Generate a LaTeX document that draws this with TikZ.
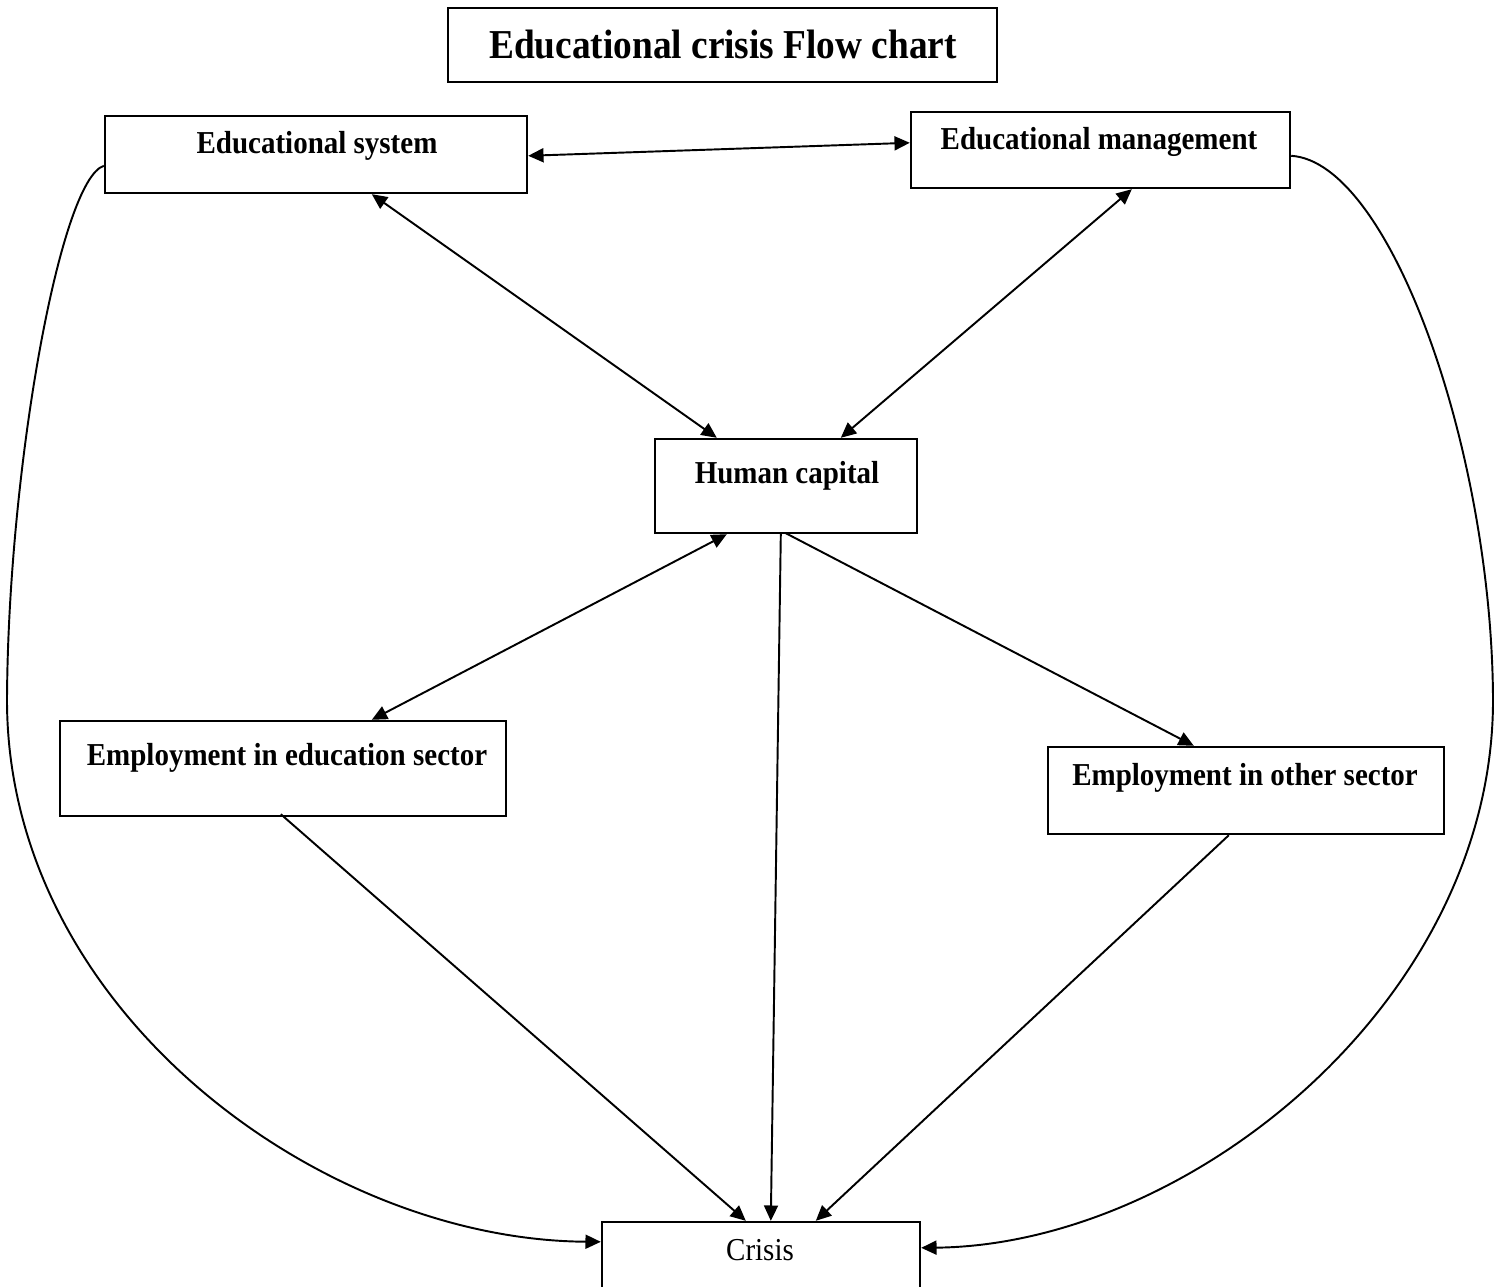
\documentclass[tikz,border=0pt]{standalone}
\usepackage{fontspec}
\setmainfont{Liberation Serif}
\usetikzlibrary{arrows.meta,fit,calc}
\newcommand{\tallertext}[1]{\scalebox{1}[1.1]{#1}}
\begin{document}
\begin{tikzpicture}[x=0.75pt,y=-0.75pt,
  box/.style={draw,line width=1.8pt,inner sep=0pt,rectangle},
  lbl/.style={anchor=base,inner sep=0pt,font=\fontsize{21.75}{26}\selectfont\bfseries},
  plain/.style={anchor=base,inner sep=0pt,font=\fontsize{21.75}{26}\selectfont},
  ttl/.style={anchor=base,inner sep=0pt,font=\fontsize{28}{34}\selectfont\bfseries},
  conn/.style={line width=1.45pt},
  >={Triangle[length=11.5pt,width=10.5pt]}]
\useasboundingbox (0,0) rectangle (1501,1287);
\clip (0,0) rectangle (1501,1287);

% boxes
\node[box,fit={(448,8)(997,82)}] (title) {};
\node[box,fit={(105,116)(527,193)}] (es) {};
\node[box,fit={(911,112)(1290,188)}] (em) {};
\node[box,fit={(655,439)(917,533)}] (hc) {};
\node[box,fit={(60,721)(506,816)}] (ees) {};
\node[box,fit={(1048,747)(1444,834)}] (eos) {};
\node[box,fit={(602,1222)(920,1310)}] (cr) {};

% texts
\node[ttl] (titletext) at (723,59) {\tallertext{Educational crisis Flow chart}};
\node[lbl] (estext) at (317,154) {\tallertext{Educational system}};
\node[lbl] (emtext) at (1099,150) {\tallertext{Educational management}};
\node[lbl] (hctext) at (787,483) {\tallertext{Human capital}};
\node[lbl] (eestext) at (287,765) {\tallertext{Employment in education sector}};
\node[lbl] (eostext) at (1245,785) {\tallertext{Employment in other sector}};
\node[plain] (crtext) at (760,1260) {\tallertext{Crisis}};

% connectors
\draw[conn,<->] ($(es.north east)+(0,41)$) -- ($(em.north west)+(0,32)$);
\draw[conn,<->] ($(es.south west)+(268,0)$) -- ($(hc.north west)+(63,0)$);
\draw[conn,<->] ($(em.south west)+(222,0)$) -- ($(hc.north west)+(187,0)$);
\draw[conn,<->] ($(hc.south west)+(73,0)$) -- ($(ees.north west)+(313,0)$);
\draw[conn,->] ($(hc.south west)+(132,-1)$) -- ($(eos.north west)+(147,0)$);
\draw[conn,->] ($(hc.south west)+(127,0)$) -- ($(cr.north west)+(170,0)$);
\draw[conn,->] ($(ees.south west)+(222,-3)$) -- ($(cr.north west)+(145,0)$);
\draw[conn,->] ($(eos.south west)+(182,0)$) -- ($(cr.north west)+(215,0)$);

\coordinate (lmid) at (7,700);
\coordinate (rmid) at (1493,700);
\draw[conn,->] ($(es.north west)+(0,51)$) .. controls (60,180) and (8,470) .. (lmid)
  .. controls (7,1010) and (320,1240) .. ($(cr.north west)+(0,21)$);
\draw[conn,->] ($(em.north east)+(0,45)$) .. controls (1390,162) and (1492,450) .. (rmid)
  .. controls (1493,1000) and (1190,1245) .. ($(cr.north east)+(0,27)$);
\end{tikzpicture}
\end{document}
